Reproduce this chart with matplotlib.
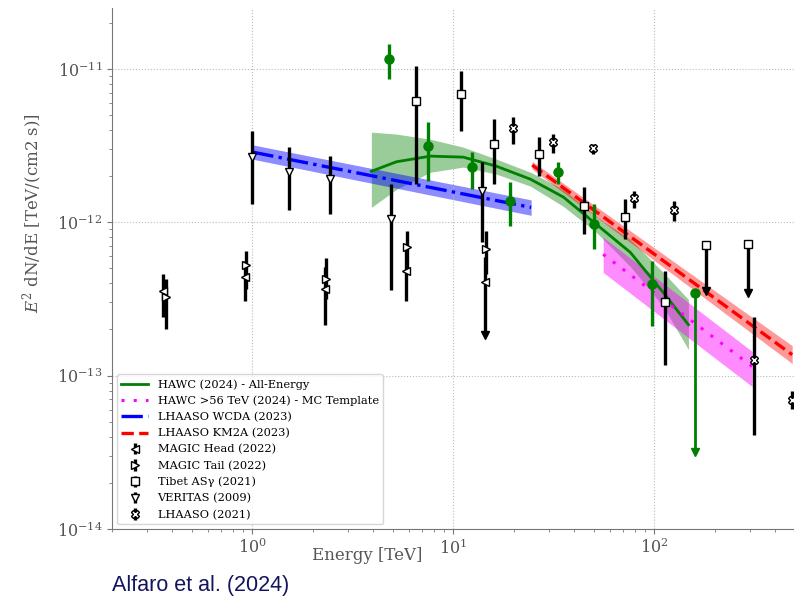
import numpy as np
import matplotlib
matplotlib.use("Agg")
import matplotlib.pyplot as plt
from matplotlib.ticker import NullFormatter

plt.rcParams["font.family"] = "DejaVu Serif"
plt.rcParams["mathtext.fontset"] = "dejavuserif"

# ---- HAWC (2024) flux points [TeV, TeV/cm2/s] ----
hawc_E = [4.8, 7.5, 12.4, 19.2, 33.3, 50.3, 97.7]
hawc_F = [1.16e-11, 3.14e-12, 2.29e-12, 1.37e-12, 2.12e-12, 9.7e-13, 3.94e-13]
hawc_hi = [1.46e-11, 4.5e-12, 2.87e-12, 1.82e-12, 2.47e-12, 1.31e-12, 5.56e-13]
hawc_lo = [8.6e-12, 1.85e-12, 1.64e-12, 9.4e-13, 1.77e-12, 6.67e-13, 2.12e-13]
hawc_ul_E = [160.0]
hawc_ul_F = [3.44e-13]
hawc_ul_tip = [3.2e-14]

# HAWC all-energy model curve and band
curve_E = [3.91, 5.21, 7.68, 11.2, 16.4, 24.2, 35.3, 51.5, 76.0, 111.0, 148.0]
curve_F = [2.15e-12, 2.48e-12, 2.70e-12, 2.66e-12, 2.32e-12, 1.91e-12,
           1.46e-12, 9.7e-13, 6.37e-13, 3.48e-13, 2.15e-13]
curve_up = [3.87e-12, 3.76e-12, 3.48e-12, 3.09e-12, 2.58e-12, 2.12e-12,
            1.64e-12, 1.09e-12, 7.74e-13, 4.71e-13, 3.14e-13]
curve_dn = [1.25e-12, 1.64e-12, 2.12e-12, 2.29e-12, 2.06e-12, 1.72e-12,
            1.27e-12, 8.6e-13, 5.15e-13, 2.82e-13, 1.48e-13]

# HAWC >56 TeV MC template
mc_E = [55.7, 307.0]
mc_F = [6.18e-13, 1.15e-13]
mc_up = [7.98e-13, 1.44e-13]
mc_dn = [4.71e-13, 8.5e-14]

# LHAASO WCDA (2023)
wcda_E = [1.0, 24.4]
wcda_F = [2.87e-12, 1.25e-12]
wcda_up = [3.2e-12, 1.40e-12]
wcda_dn = [2.58e-12, 1.11e-12]

# LHAASO KM2A (2023)
km2a_E = [24.7, 486.0]
km2a_F = [2.36e-12, 1.37e-13]
km2a_up = [2.50e-12, 1.57e-13]
km2a_dn = [2.22e-12, 1.20e-13]

# MAGIC Head / Tail (2022)
mh_E = [0.36, 0.92, 2.31, 5.84, 14.4]
mh_F = [3.54e-13, 4.37e-13, 3.7e-13, 4.79e-13, 4.06e-13]
mh_hi = [4.57e-13, 5.56e-13, 5.08e-13, 6.67e-13, 5.9e-13]
mh_lo = [2.43e-13, 3.05e-13, 2.15e-13, 3.05e-13, 1.85e-13]
mh_arrow = [False, False, False, False, True]

mt_E = [0.37, 0.93, 2.32, 5.86, 14.5]
mt_F = [3.24e-13, 5.24e-13, 4.3e-13, 6.87e-13, 6.67e-13]
mt_hi = [4.24e-13, 6.46e-13, 5.82e-13, 8.73e-13, 8.73e-13]
mt_lo = [2.0e-13, 3.65e-13, 3.14e-13, 4.57e-13, 4.57e-13]

# Tibet ASgamma (2021)
tib_E = [6.54, 10.96, 16.0, 26.8, 44.9, 71.7, 113.0]
tib_F = [6.18e-12, 6.87e-12, 3.24e-12, 2.78e-12, 1.27e-12, 1.09e-12, 3.0e-13]
tib_hi = [1.047e-11, 9.7e-12, 4.71e-12, 3.6e-12, 1.69e-12, 1.41e-12, 4.79e-13]
tib_lo = [1.77e-12, 3.94e-12, 1.77e-12, 2.0e-12, 8.36e-13, 7.74e-13, 1.18e-13]
tib_ul_E = [181.0, 294.0]
tib_ul_F = [7.08e-13, 7.18e-13]
tib_ul_tip = [3.54e-13, 3.48e-13]

# VERITAS (2009)
ver_E = [1.0, 1.53, 2.42, 4.92, 13.9]
ver_F = [2.66e-12, 2.12e-12, 1.91e-12, 1.05e-12, 1.6e-12]
ver_hi = [3.94e-12, 3.09e-12, 2.70e-12, 1.77e-12, 2.47e-12]
ver_lo = [1.31e-12, 1.20e-12, 1.13e-12, 3.6e-13, 7.4e-13]

# LHAASO (2021)
lh_E = [19.9, 31.5, 49.7, 79.5, 126.0, 315.0, 486.0]
lh_F = [4.11e-12, 3.33e-12, 3.05e-12, 1.44e-12, 1.2e-12, 1.27e-13, 6.97e-14]
lh_hi = [4.85e-12, 3.76e-12, 3.24e-12, 1.6e-12, 1.37e-12, 2.43e-13, 7.9e-14]
lh_lo = [3.24e-12, 2.82e-12, 2.78e-12, 1.24e-12, 1.02e-12, 4.11e-14, 6.1e-14]

x_ticks = [1, 10, 100]
y_ticks = [1e-14, 1e-13, 1e-12, 1e-11]


def yerr(F, lo, hi):
    F = np.asarray(F)
    return [F - np.asarray(lo), np.asarray(hi) - F]


fig = plt.figure(figsize=(7.94, 6.06), dpi=100)
ax = fig.add_axes([0.141, 0.127, 0.936, 0.860])
ax.set_xscale("log")
ax.set_yscale("log")

# model bands and lines
ax.fill_between(curve_E, curve_dn, curve_up, color="green", alpha=0.4, lw=0, zorder=1)
ax.fill_between(wcda_E, wcda_dn, wcda_up, color="blue", alpha=0.45, lw=0, zorder=1)
ax.fill_between(km2a_E, km2a_dn, km2a_up, color="red", alpha=0.4, lw=0, zorder=1)
ax.fill_between(mc_E, mc_dn, mc_up, color="magenta", alpha=0.45, lw=0, zorder=1)

l_hawc, = ax.plot(curve_E, curve_F, color="green", lw=2, zorder=3,
                  solid_joinstyle="round", label="HAWC (2024) - All-Energy")
l_mc, = ax.plot(mc_E, mc_F, color="magenta", lw=2.2, ls=(0, (1, 3)), zorder=3,
                label="HAWC >56 TeV (2024) - MC Template")
l_wcda, = ax.plot(wcda_E, wcda_F, color="blue", lw=2.4, ls="-.", zorder=3,
                  label="LHAASO WCDA (2023)")
l_km2a, = ax.plot(km2a_E, km2a_F, color="red", lw=2.4, ls="--", zorder=3,
                  label="LHAASO KM2A (2023)")

ebkw = dict(ls="none", ecolor="black", elinewidth=2.4, capsize=0, ms=6,
            mfc="white", mec="black", mew=1.0, zorder=4)

e_mh = ax.errorbar(mh_E, mh_F, yerr=yerr(mh_F, mh_lo, mh_hi), fmt="<",
                   label="MAGIC Head (2022)", **ebkw)
e_mt = ax.errorbar(mt_E, mt_F, yerr=yerr(mt_F, mt_lo, mt_hi), fmt=">",
                   label="MAGIC Tail (2022)", **ebkw)
e_tib = ax.errorbar(tib_E, tib_F, yerr=yerr(tib_F, tib_lo, tib_hi), fmt="s",
                    label="Tibet AS\u03b3 (2021)", **ebkw)
e_ver = ax.errorbar(ver_E, ver_F, yerr=yerr(ver_F, ver_lo, ver_hi), fmt="v",
                    label="VERITAS (2009)", **ebkw)
e_lh = ax.errorbar(lh_E, lh_F, yerr=yerr(lh_F, lh_lo, lh_hi), fmt="X",
                   label="LHAASO (2021)", **ebkw)

# arrow heads for the MAGIC limit
for e, lo, a in zip(mh_E, mh_lo, mh_arrow):
    if a:
        ax.plot([e], [lo], marker="v", color="black", ms=6, zorder=4)

# Tibet upper limits
tib_ul_F_arr = np.asarray(tib_ul_F)
ax.errorbar(tib_ul_E, tib_ul_F, yerr=[tib_ul_F_arr - np.asarray(tib_ul_tip), np.zeros(2)],
            fmt="s", **ebkw)
ax.plot(tib_ul_E, tib_ul_tip, "v", color="black", ms=6, zorder=4)

# HAWC points
ax.errorbar(hawc_E, hawc_F, yerr=yerr(hawc_F, hawc_lo, hawc_hi), fmt="o",
            color="green", ecolor="green", elinewidth=2.4, ms=6.5, zorder=5)
hul = np.asarray(hawc_ul_F)
ax.errorbar(hawc_ul_E, hawc_ul_F, yerr=[hul - np.asarray(hawc_ul_tip), np.zeros(1)],
            fmt="o", color="green", ecolor="green", elinewidth=2.0, ms=6.5, zorder=5)
ax.plot(hawc_ul_E, hawc_ul_tip, "v", color="green", ms=6, zorder=5)

ax.set_xlim(0.2, 1000)
ax.set_ylim(1e-14, 2.5e-11)
ax.set_xticks(x_ticks)
ax.set_yticks(y_ticks)
ax.xaxis.set_minor_formatter(NullFormatter())
ax.yaxis.set_minor_formatter(NullFormatter())

gray = "#555555"
ax.grid(True, which="major", ls=":", color="#bbbbbb", lw=0.8)
for s in ("top", "right"):
    ax.spines[s].set_visible(False)
for s in ("left", "bottom"):
    ax.spines[s].set_color("#777777")
ax.tick_params(which="both", colors="#777777", labelcolor=gray, labelsize=11.5)

ax.set_xlabel("Energy [TeV]", fontsize=12, color=gray)
ax.set_ylabel("$E^2$ dN/dE [TeV/(cm2 s)]", fontsize=12, color=gray)
ax.xaxis.set_label_coords(0.343, -0.034)
ax.yaxis.set_label_coords(-0.090, 0.607)

leg = ax.legend(handles=[l_hawc, l_mc, l_wcda, l_km2a, e_mh, e_mt, e_tib, e_ver, e_lh],
                loc="lower left", fontsize=8.2, frameon=True, borderaxespad=0.4,
                handlelength=2.4, labelspacing=0.52)
leg.get_frame().set_edgecolor("#cccccc")

fig.text(0.141, 0.024, "Alfaro et al. (2024)", fontsize=15.5, color="#14145e",
         family="Liberation Sans", ha="left", va="baseline")

fig.savefig("out.png", dpi=100)
